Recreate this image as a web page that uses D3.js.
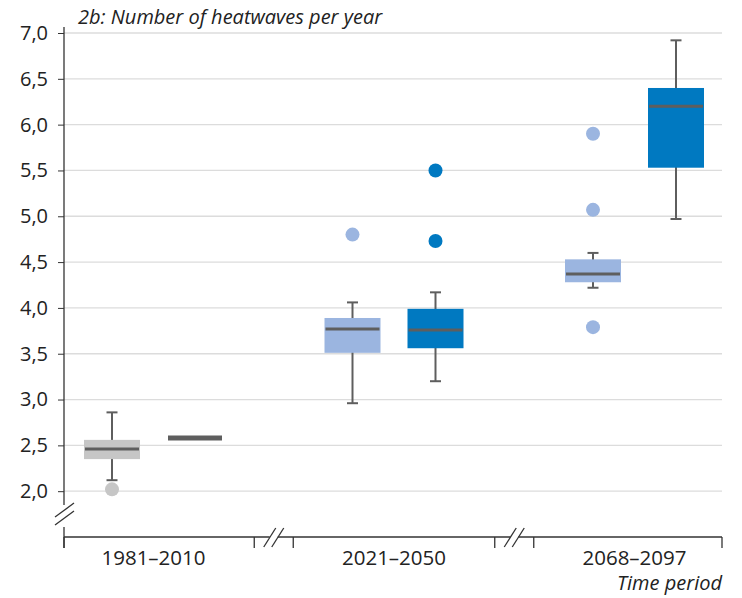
<!DOCTYPE html>
<html>
<head>
<meta charset="utf-8">
<script src="https://cdn.jsdelivr.net/npm/d3@7"></script>
<style>
  body { margin: 0; background: #fff; }
  text { font-family: "Open Sans", sans-serif; fill: #222; }
</style>
</head>
<body>
<svg id="chart"></svg>
<script>
// data
const periods = ["1981–2010", "2021–2050", "2068–2097"];
const seriesKeys = ["low", "high"];
const boxPeriod = ["1981–2010", "1981–2010", "2021–2050", "2021–2050", "2068–2097", "2068–2097"];
const boxSeries = ["low", "high", "low", "high", "low", "high"];
const whiskerLow = [2.12, 2.58, 2.96, 3.2, 4.22, 4.97];
const q1 = [2.35, 2.58, 3.51, 3.56, 4.28, 5.53];
const median = [2.46, 2.58, 3.77, 3.76, 4.37, 6.2];
const q3 = [2.56, 2.58, 3.89, 3.99, 4.53, 6.4];
const whiskerHigh = [2.86, 2.58, 4.06, 4.17, 4.6, 6.92];
const outliers = [[2.02], [], [4.8], [5.5, 4.73], [5.9, 5.07, 3.79], []];
const yTicks = [2.0, 2.5, 3.0, 3.5, 4.0, 4.5, 5.0, 5.5, 6.0, 6.5, 7.0];

const width = 742;
const height = 598;
const left = 64, right = 722;

const svg = d3.select("#chart").attr("width", width).attr("height", height);

// scales
const y = d3.scaleLinear().domain([1.5, 7]).range([537, 33]);
const x = d3.scalePoint().domain(periods).range([153.5, 634.5]);
const xs = d3.scalePoint().domain(seriesKeys).range([-41.5, 41.5]);
const boxW = 56;

// colours: first period grey, the rest blue
const fillColor = (p, s) =>
  p === periods[0]
    ? (s === "low" ? "#c6c6c6" : "#6b6b6b")
    : (s === "low" ? "#9bb5e0" : "#0079c1");
const lineColor = "#5e5e5e";

const fmt = (d) => d3.format(".1f")(d).replace(".", ",");

// gridlines
svg.append("g")
  .selectAll("line")
  .data(yTicks)
  .join("line")
  .attr("x1", left)
  .attr("x2", right)
  .attr("y1", (d) => y(d))
  .attr("y2", (d) => y(d))
  .attr("stroke", "#dcdcdc")
  .attr("stroke-width", 1.3);

// y axis
const yAxisGroup = svg.append("g")
  .attr("transform", `translate(${left},0)`)
  .call(d3.axisLeft(y).tickValues(yTicks).tickFormat(fmt).tickSize(6).tickPadding(10));
yAxisGroup.select(".domain").remove();
yAxisGroup.selectAll(".tick line").attr("stroke", "#333");
yAxisGroup.selectAll(".tick text")
  .style("font-size", "20px")
  .style("font-family", "'Open Sans', sans-serif")
  .attr("fill", "#222");

// y axis line with break
const yBreak = y(1.75);
svg.append("line")
  .attr("x1", left).attr("x2", left)
  .attr("y1", 27).attr("y2", yBreak - 9)
  .attr("stroke", "#333").attr("stroke-width", 1.3);
svg.append("line")
  .attr("x1", left).attr("x2", left)
  .attr("y1", yBreak + 13).attr("y2", 548)
  .attr("stroke", "#333").attr("stroke-width", 1.3);
[-4, 4].forEach((o) => {
  svg.append("line")
    .attr("x1", left - 9).attr("y1", yBreak + o + 7)
    .attr("x2", left + 10).attr("y2", yBreak + o - 7)
    .attr("stroke", "#333").attr("stroke-width", 1.3);
});

// x axis with breaks
const xBase = y(1.5);
const breaks = [
  (x(periods[0]) + x(periods[1])) / 2,
  (x(periods[1]) + x(periods[2])) / 2,
];
const segs = [[left, breaks[0] - 4], [breaks[0] + 4, breaks[1] - 4], [breaks[1] + 4, right]];
svg.append("g")
  .selectAll("line")
  .data(segs)
  .join("line")
  .attr("x1", (d) => d[0])
  .attr("x2", (d) => d[1])
  .attr("y1", xBase)
  .attr("y2", xBase)
  .attr("stroke", "#333")
  .attr("stroke-width", 1.3);

const tickXs = [left, breaks[0] - 19.5, breaks[0] + 19.5, breaks[1] - 19.5, breaks[1] + 19.5, right];
svg.append("g")
  .selectAll("line")
  .data(tickXs)
  .join("line")
  .attr("x1", (d) => d)
  .attr("x2", (d) => d)
  .attr("y1", xBase)
  .attr("y2", xBase + 11)
  .attr("stroke", "#333")
  .attr("stroke-width", 1.3);

breaks.forEach((b) => {
  [-4, 4].forEach((o) => {
    svg.append("line")
      .attr("x1", b + o - 6).attr("y1", xBase + 10)
      .attr("x2", b + o + 6).attr("y2", xBase - 9)
      .attr("stroke", "#333").attr("stroke-width", 1.3);
  });
});

// category labels
svg.append("g")
  .selectAll("text")
  .data(periods)
  .join("text")
  .attr("x", (d) => x(d))
  .attr("y", 565)
  .attr("text-anchor", "middle")
  .style("font-size", "20.5px")
  .text((d) => d);

svg.append("text")
  .attr("x", right)
  .attr("y", 590)
  .attr("text-anchor", "end")
  .style("font-size", "20px")
  .style("font-style", "italic")
  .text("Time period");

svg.append("text")
  .attr("x", 78)
  .attr("y", 24)
  .style("font-size", "20px")
  .style("font-style", "italic")
  .text("2b: Number of heatwaves per year");

// boxes
const boxes = boxPeriod.map((p, i) => ({
  period: p,
  series: boxSeries[i],
  lo: whiskerLow[i],
  q1: q1[i],
  med: median[i],
  q3: q3[i],
  hi: whiskerHigh[i],
  out: outliers[i],
}));

const g = svg.append("g")
  .selectAll("g")
  .data(boxes)
  .join("g")
  .attr("transform", (d) => `translate(${x(d.period) + xs(d.series)},0)`);

// whiskers
g.filter((d) => d.hi > d.lo).each(function (d) {
  const s = d3.select(this);
  s.append("line")
    .attr("x1", 0).attr("x2", 0)
    .attr("y1", y(d.hi)).attr("y2", y(d.lo))
    .attr("stroke", lineColor).attr("stroke-width", 2);
  [d.hi, d.lo].forEach((v) => {
    s.append("line")
      .attr("x1", -5.5).attr("x2", 5.5)
      .attr("y1", y(v)).attr("y2", y(v))
      .attr("stroke", lineColor).attr("stroke-width", 2);
  });
});

g.append("rect")
  .attr("x", -boxW / 2)
  .attr("width", boxW)
  .attr("y", (d) => y(d.q3))
  .attr("height", (d) => Math.max(0, y(d.q1) - y(d.q3)))
  .attr("fill", (d) => fillColor(d.period, d.series));

g.append("line")
  .attr("x1", -boxW / 2 + 1)
  .attr("x2", boxW / 2 - 1)
  .attr("y1", (d) => y(d.med))
  .attr("y2", (d) => y(d.med))
  .attr("stroke", lineColor)
  .attr("stroke-width", (d) => (d.q3 > d.q1 ? 3 : 5));

g.selectAll("circle")
  .data((d) => d.out.map((v) => ({ v, color: fillColor(d.period, d.series) })))
  .join("circle")
  .attr("cx", 0)
  .attr("cy", (d) => y(d.v))
  .attr("r", 7)
  .attr("fill", (d) => d.color);
</script>
</body>
</html>
